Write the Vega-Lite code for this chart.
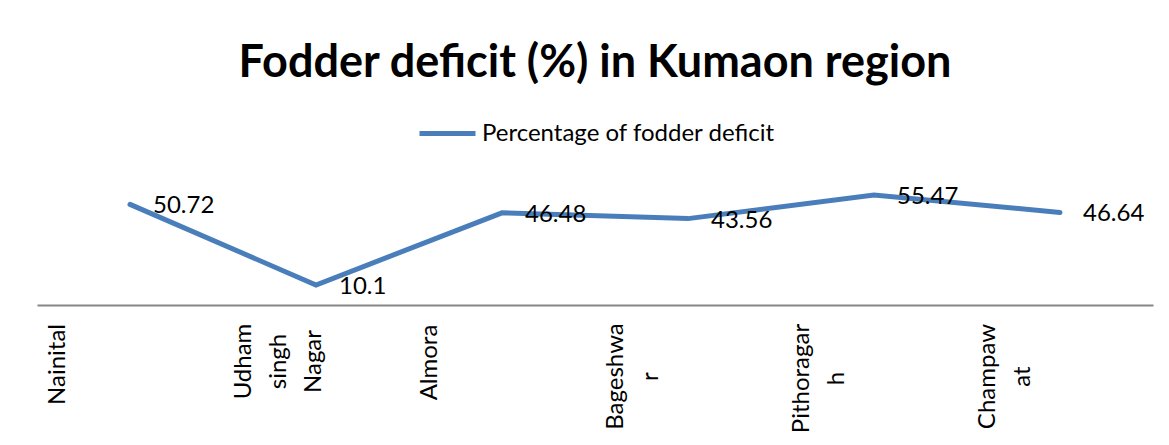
{
  "$schema": "https://vega.github.io/schema/vega-lite/v6.json",
  "width": 1116,
  "height": 119,
  "autosize": {"type": "none"},
  "padding": {"left": 37, "top": 186, "right": 16, "bottom": 140},
  "background": "white",
  "config": {"view": {"stroke": null}, "font": "Lato"},
  "title": {
    "text": "Fodder deficit (%) in Kumaon region",
    "font": "Lato",
    "fontSize": 45,
    "fontWeight": "bold",
    "color": "#000000",
    "anchor": "middle",
    "offset": 17
  },
  "data": {
    "values": [
      {"district": "Nainital", "deficit": 50.72, "series": "Percentage of fodder deficit"},
      {"district": "Udham singh Nagar", "deficit": 10.1, "series": "Percentage of fodder deficit"},
      {"district": "Almora", "deficit": 46.48, "series": "Percentage of fodder deficit"},
      {"district": "Bageshwar", "deficit": 43.56, "series": "Percentage of fodder deficit"},
      {"district": "Pithoragarh", "deficit": 55.47, "series": "Percentage of fodder deficit"},
      {"district": "Champawat", "deficit": 46.64, "series": "Percentage of fodder deficit"}
    ]
  },
  "encoding": {
    "x": {
      "field": "district",
      "type": "nominal",
      "sort": null,
      "scale": {"type": "point", "padding": 0.5},
      "axis": {
        "title": null,
        "domainColor": "#868686",
        "domainWidth": 2,
        "ticks": false,
        "grid": false,
        "labelAngle": -90,
        "labelAlign": "center",
        "labelBaseline": "top",
        "labelOffset": -85,
        "labelPadding": {
          "condition": [
            {"test": "datum.value == 'Nainital'", "value": 59},
            {"test": "datum.value == 'Udham singh Nagar'", "value": 56},
            {"test": "datum.value == 'Almora'", "value": 57},
            {"test": "datum.value == 'Bageshwar'", "value": 71},
            {"test": "datum.value == 'Pithoragarh'", "value": 73}
          ],
          "value": 71
        },
        "labelFont": "Lato",
        "labelFontSize": 24,
        "labelColor": "#000000",
        "labelLineHeight": 35,
        "labelOverlap": false,
        "labelLimit": 300,
        "labelExpr": "datum.label == 'Udham singh Nagar' ? ['Udham', 'singh', 'Nagar'] : datum.label == 'Bageshwar' ? ['Bageshwa', 'r'] : datum.label == 'Pithoragarh' ? ['Pithoragar', 'h'] : datum.label == 'Champawat' ? ['Champaw', 'at'] : datum.label"
      }
    },
    "y": {
      "field": "deficit",
      "type": "quantitative",
      "scale": {"domain": [0, 60], "nice": false, "zero": true},
      "axis": null
    }
  },
  "layer": [
    {
      "mark": {"type": "line", "strokeWidth": 5, "strokeCap": "round", "strokeJoin": "miter"},
      "encoding": {
        "color": {
          "field": "series",
          "type": "nominal",
          "scale": {"range": ["#4A7EBB"]},
          "legend": {
            "orient": "none",
            "legendX": 380,
            "legendY": -83,
            "title": null,
            "padding": 0,
            "symbolType": "stroke",
            "symbolSize": 3136,
            "symbolStrokeWidth": 5,
            "labelFont": "Lato",
            "labelFontSize": 24,
            "labelColor": "#000000",
            "labelOffset": 4,
            "labelLimit": 500
          }
        }
      }
    },
    {
      "mark": {"type": "text", "align": "left", "baseline": "middle", "dx": 23, "dy": 2, "font": "Lato", "fontSize": 24, "color": "#000000"},
      "encoding": {
        "text": {"field": "deficit", "type": "quantitative"}
      }
    }
  ]
}
